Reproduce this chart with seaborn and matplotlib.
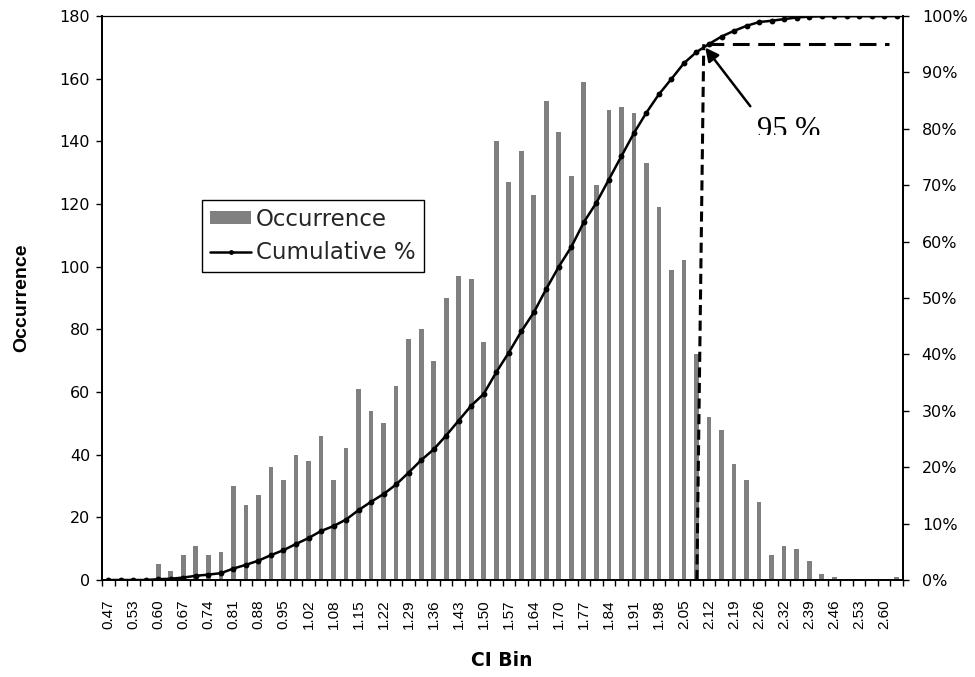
import numpy as np
import pandas as pd
import matplotlib
matplotlib.use("Agg")
import matplotlib.pyplot as plt
import seaborn as sns
from matplotlib.ticker import PercentFormatter
from matplotlib.patches import Rectangle
from matplotlib.lines import Line2D
from matplotlib.transforms import Bbox, TransformedBbox

# ---------------- data ----------------
bins = ["0.47", "0.50", "0.53", "0.57", "0.60", "0.64", "0.67", "0.71", "0.74", "0.78",
        "0.81", "0.84", "0.88", "0.91", "0.95", "0.98", "1.02", "1.05", "1.08", "1.12",
        "1.15", "1.19", "1.22", "1.26", "1.29", "1.33", "1.36", "1.40", "1.43", "1.46",
        "1.50", "1.53", "1.57", "1.60", "1.64", "1.67", "1.70", "1.74", "1.77", "1.81",
        "1.84", "1.88", "1.91", "1.95", "1.98", "2.02", "2.05", "2.09", "2.12", "2.15",
        "2.19", "2.22", "2.26", "2.29", "2.32", "2.36", "2.39", "2.43", "2.46", "2.50",
        "2.53", "2.57", "2.60", "2.64"]

occurrence = [0, 0, 0, 0, 5, 3, 8, 11, 8, 9,
              30, 24, 27, 36, 32, 40, 38, 46, 32, 42,
              61, 54, 50, 62, 77, 80, 70, 90, 97, 96,
              76, 140, 127, 137, 123, 153, 143, 129, 159, 126,
              150, 151, 149, 133, 119, 99, 102, 72, 52, 48,
              37, 32, 25, 8, 11, 10, 6, 2, 1, 0,
              0, 0, 0, 1]

cumulative_pct = [0.0, 0.0, 0.0, 0.0, 0.14, 0.22, 0.44, 0.74, 0.96, 1.21,
                  2.03, 2.69, 3.43, 4.41, 5.29, 6.39, 7.43, 8.69, 9.56, 10.72,
                  12.39, 13.87, 15.24, 16.94, 19.05, 21.24, 23.16, 25.62, 28.28, 30.91,
                  33.00, 36.83, 40.31, 44.07, 47.44, 51.63, 55.55, 59.08, 63.44, 66.89,
                  71.01, 75.14, 79.23, 82.87, 86.13, 88.85, 91.64, 93.61, 95.04, 96.36,
                  97.37, 98.25, 98.93, 99.15, 99.45, 99.73, 99.89, 99.95, 99.97, 99.97,
                  99.97, 99.97, 99.97, 100.0]

shown_labels = bins[::2]
left_ticks = [0, 20, 40, 60, 80, 100, 120, 140, 160, 180]
right_ticks = [0, 10, 20, 30, 40, 50, 60, 70, 80, 90, 100]
threshold = 95

df = pd.DataFrame({"bin": bins, "Occurrence": occurrence,
                   "pos": np.arange(len(bins)), "Cumulative": cumulative_pct})

# ---------------- style ----------------
sns.set_theme(style="white")
plt.rcParams["font.family"] = ["DejaVu Sans"]
SANS_H = "DejaVu Sans"
SANS_V = "Liberation Sans"
SERIF = "Liberation Serif"

W, H = 975, 677
fig = plt.figure(figsize=(W / 100, H / 100), dpi=100)
fig.patch.set_facecolor("white")
L, R, T, B = 102, 903, 16, 580
ax = fig.add_axes([L / W, (H - B) / H, (R - L) / W, (B - T) / H])

sns.barplot(data=df, x="bin", y="Occurrence", order=bins, color="#808080",
            saturation=1, width=0.38, edgecolor="none", ax=ax)
n = len(bins)
ax.set_xlim(-0.5, n - 0.5)
ax.set_ylim(0, 180)
ax.set_xlabel("")
ax.set_ylabel("")
ax.set_yticks(left_ticks)
ax.set_yticklabels([str(v) for v in left_ticks])
ax.set_xticks(np.arange(0, n, 2))
ax.set_xticklabels(shown_labels, rotation=90)
ax.set_xticks(np.arange(-0.5, n, 1), minor=True)
ax.tick_params(axis="x", which="major", length=0, pad=14, labelsize=11)
ax.tick_params(axis="x", which="minor", direction="out", length=4, width=1,
               color="black", bottom=True)
ax.tick_params(axis="y", direction="out", length=4.5, width=1, color="black",
               pad=4, labelsize=11.5, left=True)
for lab in ax.get_xticklabels():
    lab.set_fontfamily(SANS_V)
    lab.set_color("black")
for lab in ax.get_yticklabels():
    lab.set_fontfamily(SANS_H)
    lab.set_color("black")
for side in ["left", "right", "bottom"]:
    ax.spines[side].set_color("black")
    ax.spines[side].set_linewidth(1.3)
ax.spines["top"].set_color("black")
ax.spines["top"].set_linewidth(0.9)

# ---------------- cumulative line ----------------
ax2 = ax.twinx()
sns.lineplot(data=df, x="pos", y="Cumulative", color="black", linewidth=1.8,
             marker="o", markersize=4.2, markeredgewidth=0, ax=ax2)
ax2.set_xlim(-0.5, n - 0.5)
ax2.set_ylim(0, 100)
ax2.set_xlabel("")
ax2.set_ylabel("")
ax2.set_yticks(right_ticks)
ax2.yaxis.set_major_formatter(PercentFormatter(100, decimals=0))
ax2.tick_params(axis="y", direction="out", length=4.5, width=1, color="black",
                pad=9, labelsize=11.5, right=True)
for lab in ax2.get_yticklabels():
    lab.set_fontfamily(SANS_H)
    lab.set_color("black")
for side in ["left", "right", "bottom"]:
    ax2.spines[side].set_color("black")
    ax2.spines[side].set_linewidth(1.3)
ax2.spines["top"].set_visible(False)
ax2.grid(False)
ax.grid(False)

# ---------------- 95 % markers ----------------
i95 = next(i for i, v in enumerate(cumulative_pct) if v >= threshold)
ax2.plot([i95 - 0.97, i95 - 0.42], [0, threshold], color="black", lw=2.2,
         linestyle=(0, (3.3, 1.8)), solid_capstyle="butt")
ax2.plot([i95 - 0.2, i95 + 14.4], [threshold, threshold], color="black", lw=2.2,
         linestyle=(0, (5.5, 2.8)))
ax2.annotate("", xy=(i95 - 0.3, threshold - 0.6), xytext=(i95 + 3.3, 84.0),
             arrowprops=dict(arrowstyle="-|>", lw=1.8, color="black",
                             mutation_scale=20, shrinkA=0, shrinkB=0))
t95 = fig.text(757 / W, 1 - 138 / H, "95 %", family=SERIF, fontsize=22,
               ha="left", va="baseline", color="black")
t95.set_clip_box(TransformedBbox(Bbox([[0, (H - 135) / H], [1, 1]]), fig.transFigure))
t95.set_clip_on(True)

# ---------------- legend ----------------
handles = [Rectangle((0, 0), 1, 1, facecolor="#808080", edgecolor="none"),
           Line2D([0], [0], color="black", lw=1.8, marker="o", markersize=3.5,
                  markeredgewidth=0)]
leg = fig.legend(handles, ["Occurrence", "Cumulative %"], loc="upper left",
                 bbox_to_anchor=(202 / W, 1 - 200 / H), bbox_transform=fig.transFigure,
                 frameon=True, fancybox=False, edgecolor="black", framealpha=1,
                 borderpad=0.35, handlelength=1.8, handleheight=0.5,
                 handletextpad=0.2, labelspacing=0.45, borderaxespad=0,
                 prop={"family": SANS_H, "size": 16.5})
leg.get_frame().set_linewidth(1.0)

# ---------------- axis titles ----------------
fig.text(502 / W, 1 - 660 / H, "CI Bin", family=SANS_H, fontweight="bold",
         fontsize=13.5, ha="center", va="center", color="black")
fig.text(22 / W, 1 - 298 / H, "Occurrence", family=SANS_V, fontweight="bold",
         fontsize=14, rotation=90, ha="center", va="center", color="black")

fig.savefig("out.png", dpi=100, facecolor="white")
